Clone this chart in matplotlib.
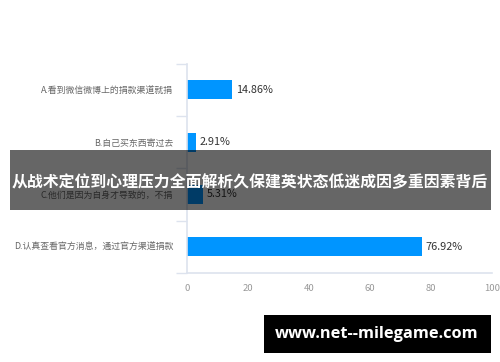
import matplotlib.pyplot as plt
from matplotlib.patches import Rectangle

plt.rcParams['font.family'] = ['Noto Sans CJK SC', 'DejaVu Sans']

# --------------------- Data ------------------------
categories = [
    "A.看到微信微博上的捐款渠道就捐",
    "B.自己买东西寄过去",
    "C.他们是因为自身才导致的，不捐",
    "D.认真查看官方消息，通过官方渠道捐款",
]
values = [14.86, 2.91, 5.31, 76.92]
value_labels = ["14.86%", "2.91%", "5.31%", "76.92%"]
x_ticks = [0, 20, 40, 60, 80, 100]

title = "从战术定位到心理压力全面解析久保建英状态低迷成因多重因素背后"
watermark = "www.net--milegame.com"

# --------------------- Plot ------------------------
fig = plt.figure(figsize=(5, 3.62), dpi=100)
ax = fig.add_axes([0.374, 0.246, 0.61, 0.578])

pos = list(range(len(categories)))
ax.barh(pos, values, height=0.36, color="#0095ff", zorder=2)
ax.set_ylim(len(categories) - 0.5, -0.5)
ax.set_xlim(0, 100)

for p, v, lab in zip(pos, values, value_labels):
    ax.text(v + 1.2, p, lab, va="center", ha="left", fontsize=7.8,
            color="#333333")

ax.set_yticks(pos)
ax.set_yticklabels(categories, fontsize=6.4, color="#666666")
ax.tick_params(axis="y", length=0, pad=10)
ax.set_yticks([i - 0.5 for i in range(len(categories) + 1)], minor=True)
ax.tick_params(axis="y", which="minor", length=8, color="#dde3ee", width=1)

ax.set_xticks(x_ticks)
ax.set_xticklabels([str(t) for t in x_ticks], fontsize=6.8, color="#999999")
ax.tick_params(axis="x", length=0, pad=8)

for s in ["top", "right"]:
    ax.spines[s].set_visible(False)
ax.spines["left"].set_color("#dde3ee")
ax.spines["bottom"].set_color("#dde3ee")
ax.spines["left"].set_linewidth(1.2)
ax.spines["bottom"].set_linewidth(1.2)

# banner overlay
fig.patches.append(Rectangle((10 / 500, 1 - 210 / 362), 481 / 500, 60 / 362,
                             transform=fig.transFigure, facecolor="black",
                             alpha=0.6, zorder=5))
fig.text(250 / 500, 1 - 182 / 362, title, ha="center", va="center",
         fontsize=11.4, fontweight="bold", color="white", zorder=6)

# watermark box
fig.patches.append(Rectangle((264 / 500, 1 - 353 / 362), 227 / 500, 38 / 362,
                             transform=fig.transFigure, facecolor="black",
                             zorder=5))
fig.text(377 / 500, 1 - 334 / 362, watermark, ha="center", va="center",
         fontsize=11.8, fontweight="bold", color="white", zorder=6,
         family=["Open Sans", "DejaVu Sans"])

fig.savefig("out.png", dpi=100)
